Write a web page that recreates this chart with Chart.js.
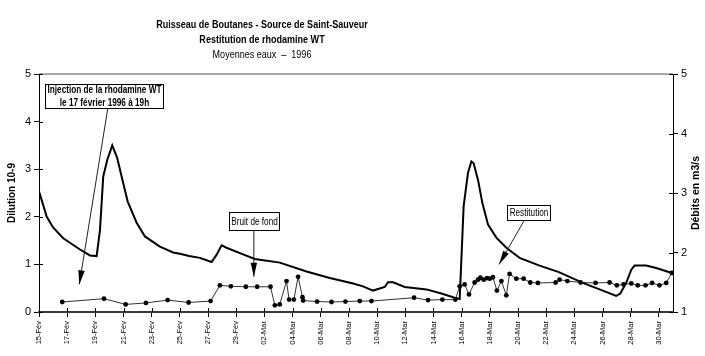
<!DOCTYPE html>
<html><head><meta charset="utf-8">
<script src="https://cdn.jsdelivr.net/npm/chart.js@4.4.1/dist/chart.umd.min.js"></script>
<style>html,body{margin:0;padding:0;background:#fff}#wrap{width:705px;height:356px;position:relative}</style>
</head><body><div id="wrap"><canvas id="c"></canvas></div>
<script>
// ---- Data ----
const titleLines = ['Ruisseau de Boutanes - Source de Saint-Sauveur', 'Restitution de rhodamine WT', 'Moyennes eaux  \u2013  1996'];
const leftAxisTitle = 'Dilution 10-9';
const rightAxisTitle = 'D\u00e9bits en m3/s';
// x values are days since 15 February 1996, 00:00
const xTickLabels = ['15-F\u00e9v','17-F\u00e9v','19-F\u00e9v','21-F\u00e9v','23-F\u00e9v','25-F\u00e9v','27-F\u00e9v','29-F\u00e9v',
  '02-Mar','04-Mar','06-Mar','08-Mar','10-Mar','12-Mar','14-Mar','16-Mar','18-Mar','20-Mar','22-Mar','24-Mar','26-Mar','28-Mar','30-Mar'];
const leftTicks = [0, 1, 2, 3, 4, 5];
const rightTicks = [1, 2, 3, 4, 5];

// discharge (m3/s, right axis)
const flowDays = [0, 0.55, 1.0, 1.72, 2.91, 3.62, 4.09, 4.33, 4.56, 4.85, 5.2, 5.55, 5.86, 6.29, 6.93, 7.52, 8.58, 9.52, 10.0, 10.66,
  11.42, 12.25, 12.6, 12.96, 13.31, 14.26, 15.32, 17.09, 18.99, 20.64, 22.3, 23.0, 23.71, 24.54, 24.77, 25.13, 25.96, 27.5, 28.56, 29.5,
  29.86, 30.14, 30.45, 30.69, 30.85, 31.16, 31.47, 31.87, 32.46, 33.17, 34.11, 35.53, 36.9, 38.6, 39.79, 40.97, 41.26, 41.68, 42.04, 42.27,
  43.1, 43.81, 44.87];
const flowValues = [3.03, 2.60, 2.42, 2.24, 2.05, 1.95, 1.94, 2.38, 3.28, 3.56, 3.80, 3.59, 3.28, 2.86, 2.50, 2.27, 2.10, 2.00, 1.98, 1.94,
  1.91, 1.84, 1.96, 2.12, 2.08, 1.99, 1.89, 1.83, 1.68, 1.57, 1.48, 1.43, 1.36, 1.42, 1.50, 1.50, 1.42, 1.38, 1.31, 1.24,
  1.22, 2.78, 3.34, 3.53, 3.50, 3.22, 2.83, 2.47, 2.25, 2.08, 1.91, 1.78, 1.67, 1.49, 1.38, 1.27, 1.31, 1.49, 1.71, 1.78,
  1.78, 1.74, 1.66];

// rhodamine dilution (10-9, left axis)
const dyeDays = [1.65, 4.61, 6.15, 7.59, 9.13, 10.62, 12.18, 12.84, 13.62, 14.68, 15.48, 16.43, 16.74, 17.09, 17.57, 17.75, 18.09, 18.39,
  18.70, 18.75, 19.74, 20.76, 21.75, 22.77, 23.6, 26.62, 27.61, 28.63, 29.55, 29.86, 30.21, 30.52, 30.92, 31.16, 31.33, 31.56, 31.79,
  31.99, 32.22, 32.5, 32.82, 33.17, 33.4, 33.88, 34.4, 34.87, 35.41, 36.67, 36.95, 37.5, 38.44, 39.5, 40.5, 41.01, 41.49, 42.04, 42.5,
  43.05, 43.52, 44.04, 44.52, 44.92];
const dyeValues = [0.21, 0.28, 0.16, 0.19, 0.25, 0.20, 0.23, 0.56, 0.54, 0.53, 0.53, 0.53, 0.14, 0.16, 0.65, 0.26, 0.26, 0.74,
  0.31, 0.24, 0.22, 0.21, 0.22, 0.23, 0.23, 0.30, 0.25, 0.26, 0.26, 0.54, 0.58, 0.37, 0.62, 0.68, 0.72, 0.68, 0.71,
  0.70, 0.73, 0.45, 0.65, 0.35, 0.80, 0.70, 0.70, 0.62, 0.61, 0.62, 0.68, 0.65, 0.62, 0.61, 0.62, 0.56, 0.58, 0.60, 0.56,
  0.56, 0.61, 0.56, 0.61, 0.82];

// annotation texts, anchored in data coordinates (day, dilution)
const noteTexts = [['Injection de la rhodamine WT', 'le 17 f\u00e9vrier 1996 \u00e0 19h'], ['Bruit de fond'], ['Restitution']];
const noteBoxes = [[0.43, 4.79, 8.79, 4.29], [13.48, 2.11, 17.02, 1.73], [33.19, 2.25, 36.24, 1.94]];
const noteFrom = [[4.89, 4.29], [15.25, 1.73], [34.47, 1.94]];
const noteTo = [[2.86, 0.58], [15.25, 0.74], [32.65, 1.0]];

// ---- Drawing ----
const FONT = "'Liberation Sans', Arial, sans-serif";
const NARROW = 0.82;
function condensedText(ctx, text, x, y, font, sx, rot) {
  ctx.save();
  ctx.font = font;
  ctx.translate(x, y);
  if (rot) ctx.rotate(rot);
  ctx.scale(sx, 1);
  ctx.textAlign = 'center';
  ctx.textBaseline = 'middle';
  ctx.fillText(text, 0, 0);
  ctx.restore();
}

const decor = {
  id: 'decor',
  afterDatasetsDraw(chart) {
    const ctx = chart.ctx, a = chart.chartArea;
    const xs = chart.scales.x, yl = chart.scales.yL, yr = chart.scales.yR;
    ctx.save();
    // top frame line
    ctx.strokeStyle = '#8a8a8a'; ctx.lineWidth = 1.5;
    ctx.beginPath(); ctx.moveTo(a.left, a.top); ctx.lineTo(a.right, a.top); ctx.stroke();
    // inner halves of the tick marks
    ctx.strokeStyle = '#000'; ctx.lineWidth = 1;
    ctx.beginPath();
    xs.ticks.forEach(t => { const p = Math.round(xs.getPixelForValue(t.value)) + 0.5; ctx.moveTo(p, a.bottom - 4); ctx.lineTo(p, a.bottom); });
    yl.ticks.forEach(t => { const p = Math.round(yl.getPixelForValue(t.value)) + 0.5; ctx.moveTo(a.left, p); ctx.lineTo(a.left + 4, p); });
    yr.ticks.forEach(t => { const p = Math.round(yr.getPixelForValue(t.value)) + 0.5; ctx.moveTo(a.right - 4, p); ctx.lineTo(a.right, p); });
    ctx.stroke();
    // annotations
    noteTexts.forEach((lines, i) => {
      const fx = xs.getPixelForValue(noteFrom[i][0]), fy = yl.getPixelForValue(noteFrom[i][1]);
      const tx = xs.getPixelForValue(noteTo[i][0]), ty = yl.getPixelForValue(noteTo[i][1]);
      ctx.strokeStyle = '#222'; ctx.lineWidth = 1;
      ctx.beginPath(); ctx.moveTo(fx, fy); ctx.lineTo(tx, ty); ctx.stroke();
      const ang = Math.atan2(ty - fy, tx - fx), L = 14, W = 3.2;
      ctx.fillStyle = '#000';
      ctx.beginPath();
      ctx.moveTo(tx, ty);
      ctx.lineTo(tx - L * Math.cos(ang) + W * Math.sin(ang), ty - L * Math.sin(ang) - W * Math.cos(ang));
      ctx.lineTo(tx - L * Math.cos(ang) - W * Math.sin(ang), ty - L * Math.sin(ang) + W * Math.cos(ang));
      ctx.closePath(); ctx.fill();
      const b = noteBoxes[i];
      const x1 = Math.round(xs.getPixelForValue(b[0])) + 0.5, y1 = Math.round(yl.getPixelForValue(b[1])) + 0.5;
      const x2 = Math.round(xs.getPixelForValue(b[2])) + 0.5, y2 = Math.round(yl.getPixelForValue(b[3])) + 0.5;
      ctx.fillStyle = '#fff'; ctx.fillRect(x1, y1, x2 - x1, y2 - y1);
      ctx.strokeStyle = '#000'; ctx.lineWidth = 1; ctx.strokeRect(x1, y1, x2 - x1, y2 - y1);
      ctx.fillStyle = '#000';
      const cx = (x1 + x2) / 2, cy = (y1 + y2) / 2, lh = 12.6;
      const font = (i === 0 ? 'bold ' : '') + '10px ' + FONT;
      lines.forEach((s, k) => condensedText(ctx, s, cx, cy + (k - (lines.length - 1) / 2) * lh + 0.5, font, NARROW));
    });
    ctx.restore();
  },
  afterDraw(chart) {
    const ctx = chart.ctx, a = chart.chartArea;
    ctx.save();
    ctx.fillStyle = '#000';
    const cx = 262, ys = [25, 39.5, 55];
    titleLines.forEach((s, i) => condensedText(ctx, s, cx, ys[i], (i < 2 ? 'bold ' : '') + '11px ' + FONT, NARROW));
    // right axis title, reading bottom to top
    condensedText(ctx, rightAxisTitle, 696, (a.top + a.bottom) / 2, 'bold 10.5px ' + FONT, 1, -Math.PI / 2);
    ctx.restore();
  }
};

const axisCommon = {
  grid: { display: true, drawOnChartArea: false, drawTicks: true, tickLength: 5, color: '#000', lineWidth: 1 },
  border: { display: true, color: '#000', width: 1 },
};

new Chart(document.getElementById('c'), {
  type: 'line',
  data: {
    datasets: [
      {
        label: 'Débits', yAxisID: 'yR',
        data: flowDays.map((d, i) => ({ x: d, y: flowValues[i] })),
        borderColor: '#000', borderWidth: 2, pointRadius: 0, tension: 0, fill: false
      },
      {
        label: 'Dilution', yAxisID: 'yL',
        data: dyeDays.map((d, i) => ({ x: d, y: dyeValues[i] })),
        borderColor: '#333', borderWidth: 1, pointRadius: 2.4, pointBackgroundColor: '#000',
        pointBorderColor: '#000', pointBorderWidth: 0, tension: 0, fill: false
      }
    ]
  },
  options: {
    responsive: true, maintainAspectRatio: false, animation: false, devicePixelRatio: 1,
    layout: { padding: { top: 74, left: 0, right: 0, bottom: 0 } },
    plugins: { legend: { display: false }, tooltip: { enabled: false }, title: { display: false } },
    scales: {
      x: {
        type: 'linear', position: 'bottom', min: 0, max: 45,
        afterFit(s) { s.height = 44; },
        afterBuildTicks(s) { s.ticks = xTickLabels.map((_, i) => ({ value: i * 2 })); },
        ticks: {
          autoSkip: false, minRotation: 90, maxRotation: 90, padding: 4, color: '#000',
          font: { family: FONT, size: 7.5 },
          callback: (v) => xTickLabels[Math.round(v / 2)] || ''
        },
        grid: { display: true, drawOnChartArea: false, drawTicks: true, tickLength: 5, color: '#000', lineWidth: 1 },
        border: { display: true, color: '#3a3a3a', width: 2 }
      },
      yL: {
        type: 'linear', position: 'left', min: 0, max: 5,
        afterFit(s) { s.width = 39; },
        afterBuildTicks(s) { s.ticks = leftTicks.map(v => ({ value: v })); },
        ticks: { padding: 3, color: '#000', font: { family: FONT, size: 11 } },
        title: { display: true, text: leftAxisTitle, color: '#000', font: { family: FONT, size: 10, weight: 'bold' }, padding: { top: 6, bottom: 0 } },
        ...axisCommon
      },
      yR: {
        type: 'linear', position: 'right', min: 1, max: 5,
        afterFit(s) { s.width = 32; },
        afterBuildTicks(s) { s.ticks = rightTicks.map(v => ({ value: v })); },
        ticks: { padding: 3, color: '#000', font: { family: FONT, size: 11 } },
        title: { display: false },
        ...axisCommon
      }
    }
  },
  plugins: [decor]
});
</script>
</body></html>
